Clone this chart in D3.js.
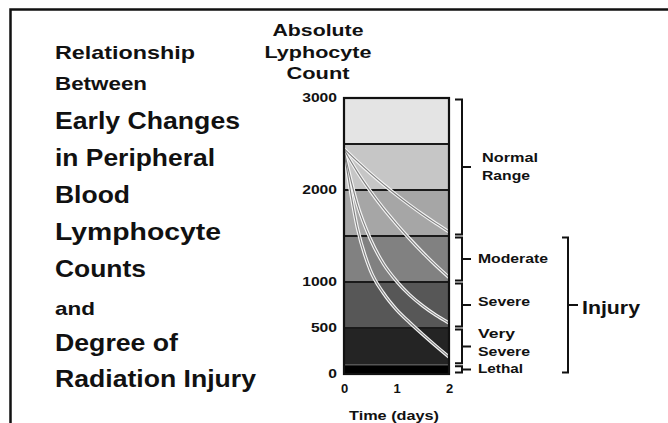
<!DOCTYPE html>
<html>
<head>
<meta charset="utf-8">
<script src="https://cdn.jsdelivr.net/npm/d3@7"></script>
<style>
 body { margin: 0; background: #fff; }
 text { font-family: 'Liberation Sans', Arial, sans-serif; font-weight: bold; fill: #111; }
</style>
</head>
<body>
<svg width="668" height="423"></svg>
<script>
// Chart values.

var days = [0, 0.25, 0.5, 0.75, 1, 1.25, 1.5, 1.75, 2];
var curve1 = [2450, 2313, 2183, 2061, 1946, 1837, 1734, 1637, 1545];
var curve2 = [2440, 2200, 1990, 1800, 1630, 1470, 1320, 1180, 1050];
var curve3 = [2430, 1850, 1470, 1200, 1010, 860, 740, 640, 555];
var curve4 = [2420, 1600, 1130, 880, 700, 560, 430, 305, 185];

var bandEdges = [0, 100, 500, 1000, 1500, 2000, 2500, 3000];
var yTicks = [0, 500, 1000, 2000, 3000];
var xTicks = [0, 1, 2];

var rangeNames = [['Normal', 'Range'], ['Moderate'], ['Severe'], ['Very', 'Severe'], ['Lethal']];
var rangeLow = [1500, 1000, 500, 100, 0];
var rangeHigh = [3000, 1500, 1000, 500, 100];
var injuryRange = [0, 1500];

var titleLines = ['Relationship', 'Between', 'Early Changes', 'in Peripheral', 'Blood',
 'Lymphocyte', 'Counts', 'and', 'Degree of', 'Radiation Injury'];
var axisTitle = ['Absolute', 'Lyphocyte', 'Count'];

// Basic setup.

var svg = d3.select('svg');

var x = d3.scaleLinear().domain([0, 2]).range([344, 449]);
var y = d3.scaleLinear().domain([0, 3000]).range([374, 98]);

var bandFill = d3.scaleOrdinal()
 .domain(d3.range(7))
 .range(['#000000', '#242424', '#575757', '#818181', '#a6a6a6', '#c6c6c6', '#e4e4e4']);

// Outer frame.

svg.append('path')
 .attr('d', 'M10.5,423V9.5H668')
 .attr('fill', 'none')
 .attr('stroke', '#111')
 .attr('stroke-width', 2.5);

// Left title.

var titleSize = [19, 19, 24, 24, 24, 24, 24, 19, 24, 24];
var titleBase = [59, 90, 129, 166, 203, 240, 277, 315, 351, 387];
var titleWidth = [140, 92, 185, 160, 75, 166, 91, 40, 123, 201];

svg.append('g').selectAll('text')
 .data(titleLines)
 .enter().append('text')
 .attr('x', 55)
 .attr('y', function(d, i) { return titleBase[i]; })
 .attr('font-size', function(d, i) { return titleSize[i]; })
 .attr('textLength', function(d, i) { return titleWidth[i]; })
 .attr('lengthAdjust', 'spacingAndGlyphs')
 .text(function(d) { return d; });

// Axis title.

var axisTitleWidth = [91, 107, 63];
svg.append('g').selectAll('text')
 .data(axisTitle)
 .enter().append('text')
 .attr('x', 318)
 .attr('y', function(d, i) { return 36 + i * 21.5; })
 .attr('text-anchor', 'middle')
 .attr('font-size', 17)
 .attr('textLength', function(d, i) { return axisTitleWidth[i]; })
 .attr('lengthAdjust', 'spacingAndGlyphs')
 .text(function(d) { return d; });

// Bands.

var bands = d3.range(bandEdges.length - 1);

svg.append('g').selectAll('rect')
 .data(bands)
 .enter().append('rect')
 .attr('x', x(0))
 .attr('width', x(2) - x(0))
 .attr('y', function(i) { return y(bandEdges[i + 1]); })
 .attr('height', function(i) { return y(bandEdges[i]) - y(bandEdges[i + 1]); })
 .attr('fill', function(i) { return bandFill(i); });

svg.append('g').selectAll('line')
 .data(bandEdges.slice(1, -1))
 .enter().append('line')
 .attr('x1', x(0))
 .attr('x2', x(2))
 .attr('y1', function(d) { return y(d); })
 .attr('y2', function(d) { return y(d); })
 .attr('stroke', function(d) { return d === 100 ? '#555' : '#1a1a1a'; })
 .attr('stroke-width', function(d) { return d === 100 ? 1.5 : 2.2; });

// Curves.

var line = d3.line()
 .x(function(d, i) { return x(days[i]); })
 .y(function(d) { return y(d); })
 .curve(d3.curveMonotoneX);

var curves = [curve1, curve2, curve3, curve4];
var cg = svg.append('g');
cg.selectAll('path.outer')
 .data(curves)
 .enter().append('path')
 .attr('class', 'outer')
 .attr('d', line)
 .attr('fill', 'none')
 .attr('stroke', '#f4f4f4')
 .attr('stroke-width', 3.4);
cg.selectAll('path.inner')
 .data(curves)
 .enter().append('path')
 .attr('class', 'inner')
 .attr('d', line)
 .attr('fill', 'none')
 .attr('stroke', '#808080')
 .attr('stroke-width', 1.1);

// Plot border.

svg.append('rect')
 .attr('x', x(0))
 .attr('y', y(3000))
 .attr('width', x(2) - x(0))
 .attr('height', y(0) - y(3000))
 .attr('fill', 'none')
 .attr('stroke', '#111')
 .attr('stroke-width', 2.2);

// Axes.

svg.append('g')
 .attr('transform', 'translate(' + x(0) + ',0)')
 .call(d3.axisLeft(y).tickValues(yTicks).tickSize(0).tickPadding(7).tickFormat(d3.format('d')))
 .call(function(g) { g.select('.domain').remove(); })
 .selectAll('text')
 .attr('font-size', 12)
 .attr('font-family', null)
 .attr('textLength', function(d) { return String(d).length * 8.7; })
 .attr('lengthAdjust', 'spacingAndGlyphs');

svg.append('g')
 .attr('transform', 'translate(0,' + y(0) + ')')
 .call(d3.axisBottom(x).tickValues(xTicks).tickSize(0).tickPadding(10).tickFormat(d3.format('d')))
 .call(function(g) { g.select('.domain').remove(); })
 .selectAll('text')
 .attr('font-size', 13)
 .attr('font-family', null);

svg.selectAll('.tick text').style('fill', '#111');

svg.append('text')
 .attr('x', 394)
 .attr('y', 420)
 .attr('text-anchor', 'middle')
 .attr('font-size', 12)
 .attr('textLength', 90)
 .attr('lengthAdjust', 'spacingAndGlyphs')
 .text('Time (days)');

// Brackets.

function bracket(lo, hi, xb, serif, tick) {
 var top = y(hi) + 1.5, bot = y(lo) - 1.5, mid = (top + bot) / 2;
 return 'M' + (xb - serif) + ',' + top + 'H' + xb + 'V' + bot + 'H' + (xb - serif) +
  'M' + xb + ',' + mid + 'H' + (xb + tick);
}

var bg = svg.append('g');
bg.selectAll('path')
 .data(rangeNames)
 .enter().append('path')
 .attr('d', function(d, i) { return bracket(rangeLow[i], rangeHigh[i], 462, 7, 9); })
 .attr('fill', 'none')
 .attr('stroke', '#111')
 .attr('stroke-width', 2);

var labelWidth = {Normal: 56, Range: 48, Moderate: 70, Severe: 52, Very: 37, Lethal: 45};
rangeNames.forEach(function(names, i) {
 var mid = (y(rangeLow[i]) + y(rangeHigh[i])) / 2;
 if (i === 2) mid -= 3;
 if (i === 3) mid -= 3;
 names.forEach(function(n, j) {
  bg.append('text')
   .attr('x', i === 0 ? 482 : 478)
   .attr('y', mid + 4 + (j - (names.length - 1) / 2) * 18)
   .attr('font-size', 12)
   .attr('textLength', labelWidth[n])
   .attr('lengthAdjust', 'spacingAndGlyphs')
   .text(n);
 });
});

bg.append('path')
 .attr('d', bracket(injuryRange[0], injuryRange[1], 568, 6, 10))
 .attr('fill', 'none')
 .attr('stroke', '#111')
 .attr('stroke-width', 2);

bg.append('text')
 .attr('x', 582)
 .attr('y', 314)
 .attr('font-size', 18)
 .attr('textLength', 58)
 .attr('lengthAdjust', 'spacingAndGlyphs')
 .text('Injury');
</script>
</body>
</html>
